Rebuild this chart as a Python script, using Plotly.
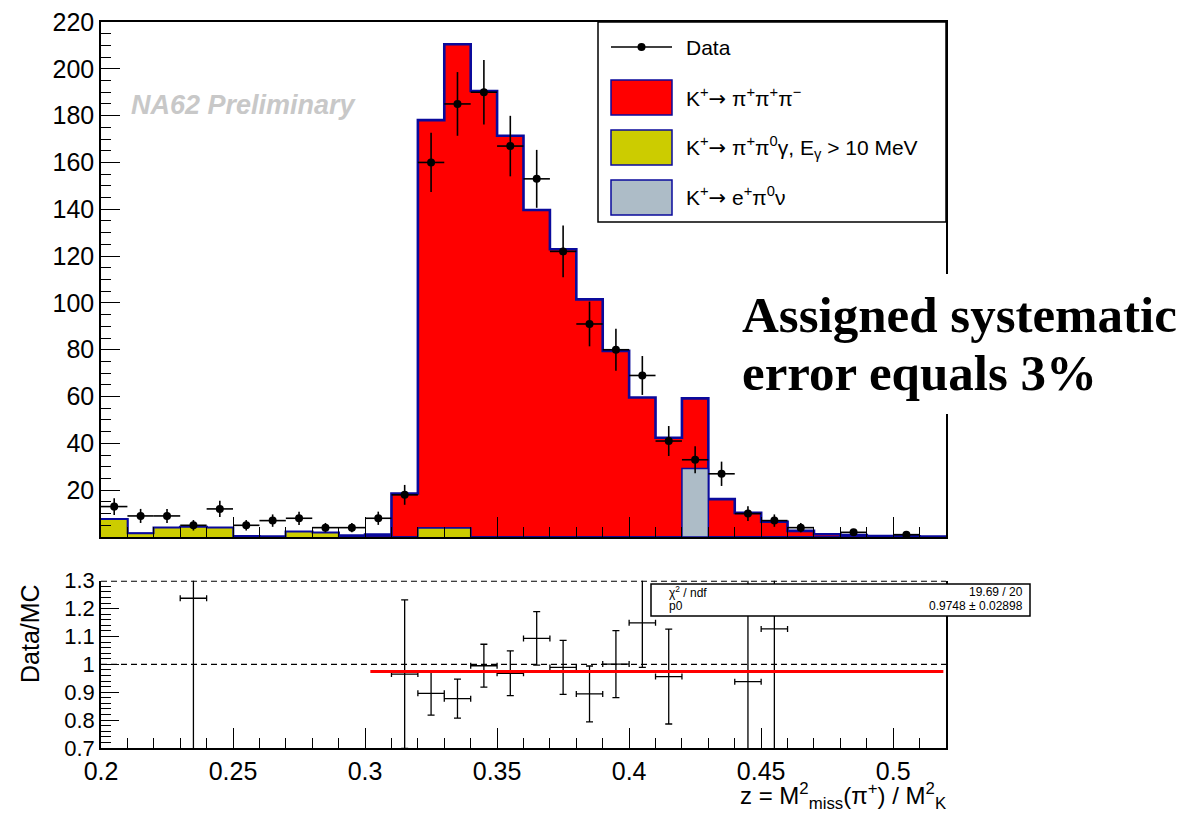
import math
import plotly.graph_objects as go

# ---------------- data ----------------
bin_edges = [0.20, 0.21, 0.22, 0.23, 0.24, 0.25, 0.26, 0.27, 0.28, 0.29, 0.30,
             0.31, 0.32, 0.33, 0.34, 0.35, 0.36, 0.37, 0.38, 0.39, 0.40, 0.41,
             0.42, 0.43, 0.44, 0.45, 0.46, 0.47, 0.48, 0.49, 0.50, 0.51, 0.52]
bin_centers = [0.205, 0.215, 0.225, 0.235, 0.245, 0.255, 0.265, 0.275, 0.285, 0.295,
               0.305, 0.315, 0.325, 0.335, 0.345, 0.355, 0.365, 0.375, 0.385, 0.395,
               0.405, 0.415, 0.425, 0.435, 0.445, 0.455, 0.465, 0.475, 0.485, 0.495,
               0.505, 0.515]
data_counts = [13, 9, 9, 5, 12, 5, 7, 8, 4, 4, 8, 18, 160, 185, 190, 167, 153, 122,
               91, 80, 69, 41, 33, 27, 10, 7, 4, 0, 2, 0, 1, 0]
mc_k3pi = [0, 0, 0, 0, 0, 0.3, 0.2, 0, 0, 0.6, 1.0, 18.6, 174.3, 206.7, 190.5, 171.4,
           139.7, 122.9, 101.5, 79.5, 59.6, 42.4, 29.9, 16.2, 10.3, 6.5, 2.6, 1.2,
           0.8, 0.4, 0.3, 0.2]
mc_pipigamma = [7.6, 1.5, 3.9, 4.3, 3.9, 0, 0, 2.2, 1.8, 0, 0, 0, 3.8, 3.8, 0, 0, 0, 0,
                0, 0, 0, 0, 0, 0, 0, 0, 0, 0, 0, 0, 0, 0]
mc_ke3 = [0, 0, 0, 0, 0, 0, 0, 0, 0, 0, 0, 0, 0, 0, 0, 0, 0, 0, 0, 0, 0, 0, 29.3, 0,
          0, 0, 0, 0, 0, 0, 0, 0]

ratio_x = [0.235, 0.315, 0.325, 0.335, 0.345, 0.355, 0.365, 0.375, 0.385, 0.395,
           0.405, 0.415, 0.445, 0.455]
ratio_y = [1.237, 0.965, 0.896, 0.877, 0.995, 0.968, 1.093, 0.989, 0.894, 1.001,
           1.149, 0.956, 0.938, 1.127]
ratio_err = [0.60, 0.266, 0.078, 0.070, 0.077, 0.080, 0.096, 0.097, 0.100, 0.120,
             0.160, 0.170, 0.450, 0.450]

fit_range = [0.302, 0.519]
fit_p0 = 0.9748
fit_p0_err = 0.02898
fit_chi2 = "19.69 / 20"

y_ticks_top = [20, 40, 60, 80, 100, 120, 140, 160, 180, 200, 220]
x_ticks = [0.2, 0.25, 0.3, 0.35, 0.4, 0.45, 0.5]
x_ticklabels = ["0.2", "0.25", "0.3", "0.35", "0.4", "0.45", "0.5"]
y_ticks_ratio = [0.7, 0.8, 0.9, 1.0, 1.1, 1.2, 1.3]
y_ticklabels_ratio = ["0.7", "0.8", "0.9", "1", "1.1", "1.2", "1.3"]

ARROW = '<span style="font-family:DejaVu Sans">→</span>'
legend_labels = ["Data",
                 "K<sup>+</sup>" + ARROW + " π<sup>+</sup>π<sup>+</sup>π<sup>−</sup>",
                 "K<sup>+</sup>" + ARROW + " π<sup>+</sup>π<sup>0</sup>γ, E<sub>γ</sub> &gt; 10 MeV",
                 "K<sup>+</sup>" + ARROW + " e<sup>+</sup>π<sup>0</sup>ν"]

# ---------------- styling ----------------
W, H = 1196, 815
FONT = "Liberation Sans"
RED = "#ff0000"
YELLOW = "#cccc00"
GREY = "#adbcc7"
BLUE = "#0a0a9c"


def px(x):
    return x / W


def py(y):
    return 1 - y / H


# cumulative stack levels (bottom -> top)
lvl1 = list(mc_pipigamma)
lvl2 = [a + b for a, b in zip(lvl1, mc_ke3)]
lvl3 = [a + b for a, b in zip(lvl2, mc_k3pi)]

fig = go.Figure()

for vals, fillc, lw in [(lvl3, RED, 2.6), (lvl2, GREY, 1.5), (lvl1, YELLOW, 1.5)]:
    fig.add_trace(go.Scatter(
        x=bin_edges, y=list(vals) + [vals[-1]], mode="lines",
        line=dict(shape="hv", color=BLUE, width=lw),
        fill="tozeroy", fillcolor=fillc, xaxis="x", yaxis="y",
        showlegend=False, hoverinfo="skip"))

# data points (skip empty bins)
dx = [c for c, n in zip(bin_centers, data_counts) if n > 0]
dy = [n for n in data_counts if n > 0]
de = [math.sqrt(n) for n in dy]
fig.add_trace(go.Scatter(
    x=dx, y=dy, mode="markers",
    marker=dict(color="black", size=8),
    error_y=dict(type="data", array=de, color="black", thickness=1.6, width=0),
    error_x=dict(type="constant", value=0.005, color="black", thickness=1.6, width=0),
    xaxis="x", yaxis="y", showlegend=False))

# ratio panel
fig.add_trace(go.Scatter(
    x=ratio_x, y=ratio_y, mode="markers",
    marker=dict(color="rgba(0,0,0,0)", size=2),
    error_y=dict(type="data", array=ratio_err, color="black", thickness=1.3, width=3.5),
    error_x=dict(type="constant", value=0.005, color="black", thickness=1.3, width=3),
    xaxis="x2", yaxis="y2", showlegend=False))

fig.add_trace(go.Scatter(
    x=fit_range, y=[fit_p0, fit_p0], mode="lines",
    line=dict(color=RED, width=3), xaxis="x2", yaxis="y2", showlegend=False))

xdom = [px(101), px(946)]
tickfont = dict(family=FONT, size=25, color="black")

fig.update_layout(
    width=W, height=H,
    margin=dict(l=0, r=0, t=0, b=0, autoexpand=False),
    paper_bgcolor="white", plot_bgcolor="white",
    showlegend=False,
    xaxis=dict(domain=xdom, range=[0.2, 0.52], anchor="y", automargin=False,
               showticklabels=False, showgrid=False, zeroline=False,
               showline=True, linecolor="black", linewidth=1.5, mirror=True,
               ticks="inside", tickvals=x_ticks, ticklen=20, tickcolor="black", tickwidth=1.2,
               minor=dict(ticks="inside", dtick=0.01, tick0=0.2, ticklen=10,
                          tickcolor="black", tickwidth=1.2, showgrid=False)),
    yaxis=dict(domain=[py(537), py(22)], range=[0, 220], anchor="x", automargin=False,
               showgrid=False, zeroline=False,
               showline=True, linecolor="black", linewidth=1.5, mirror=True,
               ticks="inside", tickvals=y_ticks_top, ticklen=19, tickcolor="black", tickwidth=1.2,
               tickfont=tickfont,
               minor=dict(ticks="inside", dtick=5, tick0=0, ticklen=10,
                          tickcolor="black", tickwidth=1.2, showgrid=False)),
    xaxis2=dict(domain=xdom, range=[0.2, 0.52], anchor="y2", automargin=False,
                showgrid=False, zeroline=False,
                showline=True, linecolor="black", linewidth=1.5, mirror=False,
                ticks="inside", tickvals=x_ticks, ticktext=x_ticklabels,
                ticklen=20, tickcolor="black", tickwidth=1.2, tickfont=tickfont,
                minor=dict(ticks="inside", dtick=0.01, tick0=0.2, ticklen=10,
                           tickcolor="black", tickwidth=1.2, showgrid=False)),
    yaxis2=dict(domain=[py(748), py(580.7)], range=[0.7, 1.3], anchor="x2", automargin=False,
                showgrid=False, zeroline=False,
                showline=True, linecolor="black", linewidth=1.5, mirror=True,
                ticks="inside", tickvals=y_ticks_ratio, ticktext=y_ticklabels_ratio,
                ticklen=18, tickcolor="black", tickwidth=1.2,
                tickfont=dict(family=FONT, size=22, color="black"),
                minor=dict(ticks="inside", dtick=0.02, tick0=0.7, ticklen=10,
                           tickcolor="black", tickwidth=1.2, showgrid=False)),
)

shapes = []
annotations = []

# ratio: dashed line at 1 and dashed top border
for yv, lw in [(1.0, 1.3), (1.3, 2.0)]:
    shapes.append(dict(type="line", xref="x2", yref="y2", x0=0.2, x1=0.52, y0=yv, y1=yv,
                       line=dict(color="black", width=lw, dash="6px,4px"), layer="above"))

# legend box
shapes.append(dict(type="rect", xref="paper", yref="paper",
                   x0=px(598), x1=px(946), y0=py(222), y1=py(22),
                   fillcolor="white", line=dict(color="black", width=1.5), layer="above"))
# data legend symbol
shapes.append(dict(type="line", xref="paper", yref="paper", x0=px(611), x1=px(672),
                   y0=py(47), y1=py(47), line=dict(color="black", width=1.5), layer="above"))
shapes.append(dict(type="circle", xref="paper", yref="paper", x0=px(637.5), x1=px(645.5),
                   y0=py(51), y1=py(43), fillcolor="black", line=dict(color="black", width=0),
                   layer="above"))
for (y0, y1), col in zip([(80, 115), (130, 165), (180, 215)], [RED, YELLOW, GREY]):
    shapes.append(dict(type="rect", xref="paper", yref="paper",
                       x0=px(611), x1=px(672), y0=py(y1), y1=py(y0),
                       fillcolor=col, line=dict(color=BLUE, width=1.5), layer="above"))
for lab, yc in zip(legend_labels, [47, 98, 147, 197]):
    annotations.append(dict(xref="paper", yref="paper", x=px(684), y=py(yc),
                            xanchor="left", yanchor="middle", text=lab, showarrow=False,
                            font=dict(family=FONT, size=21, color="black")))

# stats box
shapes.append(dict(type="rect", xref="paper", yref="paper",
                   x0=px(651), x1=px(1030), y0=py(616), y1=py(584),
                   fillcolor="white", line=dict(color="black", width=1.5), layer="above"))
sfont = dict(family=FONT, size=12, color="black")
annotations += [
    dict(xref="paper", yref="paper", x=px(667), y=py(592), xanchor="left", yanchor="middle",
         text="χ<sup>2</sup> / ndf", showarrow=False, font=sfont),
    dict(xref="paper", yref="paper", x=px(667), y=py(606), xanchor="left", yanchor="middle",
         text="p0", showarrow=False, font=sfont),
    dict(xref="paper", yref="paper", x=px(1025), y=py(592), xanchor="right", yanchor="middle",
         text=fit_chi2, showarrow=False, font=sfont),
    dict(xref="paper", yref="paper", x=px(1025), y=py(606), xanchor="right", yanchor="middle",
         text=f"{fit_p0:.4f} ± {fit_p0_err:.5f}", showarrow=False, font=sfont),
]

# white box behind the systematic-error text
shapes.append(dict(type="rect", xref="paper", yref="paper",
                   x0=px(733), x1=px(1196), y0=py(414), y1=py(274),
                   fillcolor="white", line=dict(width=0), layer="above"))
sysfont = dict(family="Liberation Serif", size=51, color="black")
annotations += [
    dict(xref="paper", yref="paper", x=px(740), y=py(315), xanchor="left", yanchor="middle",
         text="<b>Assigned systematic</b>", showarrow=False, font=sysfont),
    dict(xref="paper", yref="paper", x=px(740), y=py(373), xanchor="left", yanchor="middle",
         text="<b>error equals 3%</b>", showarrow=False, font=sysfont),
]

# NA62 Preliminary
annotations.append(dict(xref="paper", yref="paper", x=px(129), y=py(105), xanchor="left",
                        yanchor="middle", text="<b><i>NA62 Preliminary</i></b>", showarrow=False,
                        font=dict(family=FONT, size=27, color="#c8c8c8")))

# axis titles
annotations.append(dict(xref="paper", yref="paper", x=px(948), y=py(796), xanchor="right",
                        yanchor="middle",
                        text="z = M<sup>2</sup><sub>miss</sub>(π<sup>+</sup>) / M<sup>2</sup><sub>K</sub>",
                        showarrow=False, font=dict(family=FONT, size=24, color="black")))
annotations.append(dict(xref="paper", yref="paper", x=px(30), y=py(634), xanchor="center",
                        yanchor="middle", text="Data/MC", textangle=-90, showarrow=False,
                        font=dict(family=FONT, size=25, color="black")))

fig.update_layout(shapes=shapes, annotations=annotations)

fig.write_html("out.html")
